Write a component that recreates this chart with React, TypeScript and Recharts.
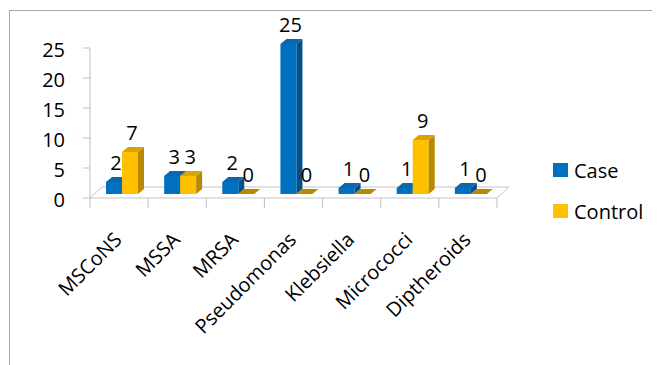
import { BarChart, Bar, XAxis, YAxis, LabelList, ReferenceLine } from "recharts";

const categories = ["MSCoNS", "MSSA", "MRSA", "Pseudomonas", "Klebsiella", "Micrococci", "Diptheroids"];
const caseValues = [2, 3, 2, 25, 1, 1, 1];
const controlValues = [7, 3, 0, 0, 0, 9, 0];
const yTicks = [0, 5, 10, 15, 20, 25];
const seriesNames = ["Case", "Control"];

const data = categories.map((name, i) => ({ name, case: caseValues[i], control: controlValues[i] }));

const FONT = "'Open Sans', sans-serif";
const W = 652;
const H = 357;
const PLOT_LEFT = 82;
const PLOT_RIGHT = 489;
const BAND = (PLOT_RIGHT - PLOT_LEFT) / categories.length;

// offsets for the fake 3d look
const SX = 3;
const SY = 4;
const DX = 6;
const DY = 5;
const FLOOR_DX = 12;
const FLOOR_DY = 11;

const blue = { front: "#0070c0", top: "#0a66ad", side: "#00508c" };
const gold = { front: "#ffc000", top: "#d9a300", side: "#b88a00" };

const make3d = (c: typeof blue) => (p: any) => {
  const w = p.width;
  const h = Math.max(p.height || 0, 0);
  const fx = p.x + SX;
  const fy = p.y - SY;
  return (
    <g>
      {h > 0 && <rect x={fx} y={fy} width={w} height={h} fill={c.front} />}
      {h > 0 && (
        <polygon
          points={`${fx + w},${fy} ${fx + w + DX},${fy - DY} ${fx + w + DX},${fy + h - DY} ${fx + w},${fy + h}`}
          fill={c.side}
        />
      )}
      <polygon
        points={`${fx},${fy} ${fx + w},${fy} ${fx + w + DX},${fy - DY} ${fx + DX},${fy - DY}`}
        fill={h > 0 ? c.top : c.side}
      />
    </g>
  );
};

const valueLabel = (p: any) => {
  const cx = p.x + p.width / 2 + SX + 2;
  const ty = p.y - SY - 12;
  return (
    <text x={cx} y={ty} textAnchor="middle" fontSize={20} fontFamily={FONT} fill="#000">
      {p.value}
    </text>
  );
};

const Floor = (p: any) => {
  const { x1, y1, x2, y2 } = p;
  return (
    <polygon
      points={`${x1},${y1} ${x2},${y2} ${x2 + FLOOR_DX},${y2 - FLOOR_DY} ${x1 + FLOOR_DX},${y1 - FLOOR_DY}`}
      fill="#fff"
      stroke="#c4c4c4"
      strokeWidth={1}
    />
  );
};

const XTick = (p: any) => {
  const { x, y, payload, index } = p;
  const last = index === categories.length - 1;
  return (
    <g>
      <line x1={x - BAND / 2} y1={y} x2={x - BAND / 2} y2={y + 10} stroke="#bfbfbf" />
      {last && <line x1={x + BAND / 2} y1={y} x2={x + BAND / 2} y2={y + 10} stroke="#bfbfbf" />}
      <text
        x={x + 4}
        y={y + 43}
        textAnchor="end"
        fontSize={20}
        fontFamily={FONT}
        fill="#000"
        transform={`rotate(-45 ${x + 4} ${y + 43})`}
      >
        {payload.value}
      </text>
    </g>
  );
};

const YTick = (p: any) => {
  const { x, y, payload } = p;
  return (
    <text x={x} y={y + 9} textAnchor="end" fontSize={20} fontFamily={FONT} fill="#000">
      {payload.value}
    </text>
  );
};

export default function App() {
  return (
    <div style={{ width: W, height: H, overflow: "hidden", position: "relative" }}>
      <div
        style={{
          position: "absolute",
          left: 1,
          top: 2,
          right: -5,
          bottom: -5,
          borderLeft: "1px solid #a6a6a6",
          borderTop: "1px solid #a6a6a6",
        }}
      />
      <div style={{ position: "absolute", left: 0, top: 0 }}>
        <BarChart
          width={W}
          height={H}
          data={data}
          margin={{ top: 40, left: 22, right: W - PLOT_RIGHT, bottom: 67 }}
          barSize={16}
          barGap={0}
        >
          <XAxis
            dataKey="name"
            axisLine={false}
            tickLine={false}
            tickSize={0}
            tickMargin={0}
            height={100}
            interval={0}
            tick={<XTick />}
          />
          <YAxis
            domain={[0, 25]}
            ticks={yTicks}
            width={60}
            axisLine={{ stroke: "#bfbfbf" }}
            tickLine={{ stroke: "#bfbfbf" }}
            tickSize={7}
            tickMargin={18}
            tick={<YTick />}
          />
          <ReferenceLine y={0} shape={<Floor />} zIndex={-10} />
          <Bar dataKey="case" name={seriesNames[0]} fill={blue.front} shape={make3d(blue)} isAnimationActive={false}>
            <LabelList dataKey="case" content={valueLabel} />
          </Bar>
          <Bar dataKey="control" name={seriesNames[1]} fill={gold.front} shape={make3d(gold)} isAnimationActive={false}>
            <LabelList dataKey="control" content={valueLabel} />
          </Bar>
        </BarChart>
      </div>
      {seriesNames.map((s, i) => (
        <div
          key={s}
          style={{
            position: "absolute",
            left: 545,
            top: 150 + i * 41,
            height: 24,
            display: "flex",
            alignItems: "center",
            fontFamily: FONT,
            fontSize: 20,
            color: "#000",
          }}
        >
          <span
            style={{
              display: "inline-block",
              width: 15,
              height: 14,
              marginRight: 6,
              background: i === 0 ? blue.front : gold.front,
            }}
          />
          {s}
        </div>
      ))}
    </div>
  );
}
